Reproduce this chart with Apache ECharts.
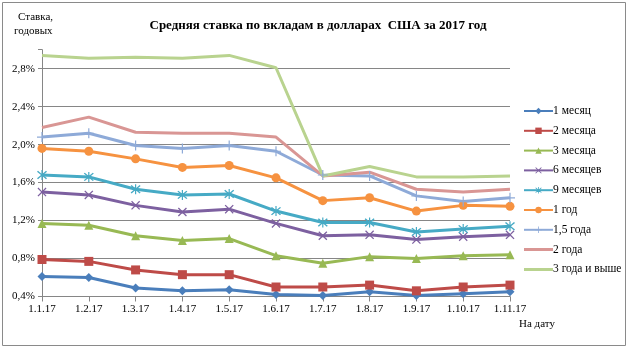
<!DOCTYPE html>
<html>
<head>
<meta charset="utf-8">
<script src="https://cdn.jsdelivr.net/npm/echarts@6/dist/echarts.min.js"></script>
<style>
  html, body { margin: 0; padding: 0; background: #fff; }
  #chart { width: 629px; height: 350px; }
</style>
</head>
<body>
<div id="chart"></div>
<script>
// Dates (first day of each month, 2017)
const dates = ['1.1.17', '1.2.17', '1.3.17', '1.4.17', '1.5.17', '1.6.17', '1.7.17', '1.8.17', '1.9.17', '1.10.17', '1.11.17'];

// Average USD deposit rates by term, % per annum
const rate1m   = [0.61, 0.60, 0.49, 0.46, 0.47, 0.42, 0.41, 0.45, 0.41, 0.43, 0.45];
const rate2m   = [0.79, 0.77, 0.68, 0.63, 0.63, 0.50, 0.50, 0.52, 0.46, 0.50, 0.52];
const rate3m   = [1.17, 1.15, 1.04, 0.99, 1.01, 0.83, 0.75, 0.82, 0.80, 0.83, 0.84];
const rate6m   = [1.50, 1.47, 1.36, 1.29, 1.32, 1.17, 1.04, 1.05, 1.00, 1.03, 1.05];
const rate9m   = [1.68, 1.66, 1.53, 1.47, 1.48, 1.30, 1.18, 1.18, 1.08, 1.11, 1.14];
const rate1y   = [1.96, 1.93, 1.85, 1.76, 1.78, 1.65, 1.41, 1.44, 1.30, 1.36, 1.35];
const rate18m  = [2.08, 2.12, 1.99, 1.96, 1.99, 1.93, 1.68, 1.67, 1.46, 1.40, 1.44];
const rate2y   = [2.18, 2.29, 2.13, 2.12, 2.12, 2.08, 1.67, 1.71, 1.53, 1.50, 1.53];
const rate3yUp = [2.94, 2.91, 2.92, 2.91, 2.94, 2.81, 1.67, 1.77, 1.66, 1.66, 1.67];

// Axis range and tick step
const yMin = 0.4, yMax = 3.0, yStep = 0.4;

const serif = '"Liberation Serif", "DejaVu Serif", serif';

const crossPath = 'path://M0,1 L1,0 L5,4 L9,0 L10,1 L6,5 L10,9 L9,10 L5,6 L1,10 L0,9 L4,5 Z';
const starPath = 'path://M0,1 L1,0 L5,4 L9,0 L10,1 L6,5 L10,9 L9,10 L5,6 L1,10 L0,9 L4,5 Z M4.4,-1 L5.6,-1 L5.6,11 L4.4,11 Z';
const plusPath = 'path://M4.4,0 L5.6,0 L5.6,4.4 L10,4.4 L10,5.6 L5.6,5.6 L5.6,10 L4.4,10 L4.4,5.6 L0,5.6 L0,4.4 L4.4,4.4 Z';
// Plain line swatch for legend entries without markers
const barIcon = 'path://M0,0 L0.01,0 L0.01,0.01 Z M0,2.5 L29,2.5 L29,5.5 L0,5.5 Z M0,8 L0.01,8 L0.01,7.99 Z';

function line(name, data, color, symbol, size) {
  const s = {
    name: name,
    type: 'line',
    data: data,
    lineStyle: { color: color, width: 3 },
    itemStyle: { color: color },
    emphasis: { disabled: true },
    animation: false,
    z: 3
  };
  if (symbol) {
    s.symbol = symbol;
    s.symbolSize = size;
  } else {
    s.symbol = 'none';
    s.showSymbol = false;
  }
  return s;
}

const chart = echarts.init(document.getElementById('chart'));
chart.setOption({
  backgroundColor: '#ffffff',
  animation: false,
  title: {
    text: 'Средняя ставка по вкладам в долларах  США за 2017 год',
    left: 313,
    top: 14,
    textAlign: 'center',
    textStyle: { fontFamily: serif, fontSize: 13, fontWeight: 'bold', color: '#000' }
  },
  graphic: [
    { type: 'rect', shape: { x: 2.5, y: 2.5, width: 623, height: 343 }, style: { fill: 'none', stroke: '#8a8a8a', lineWidth: 1 }, z: -1 },
    { type: 'text', left: 18, top: 12, style: { text: 'Ставка,', font: '11px ' + serif, fill: '#000' } },
    { type: 'text', left: 14, top: 26, style: { text: 'годовых', font: '11px ' + serif, fill: '#000' } },
    { type: 'text', left: 519, top: 319, style: { text: 'На дату', font: '11px ' + serif, fill: '#000' } }
  ],
  legend: {
    orient: 'vertical',
    left: 518,
    top: 99,
    itemWidth: 29,
    itemHeight: 8,
    itemGap: 5.8,
    textStyle: { fontFamily: serif, fontSize: 11.5, color: '#000', lineHeight: 14, padding: [0, 0, 0, -5] },
    data: [
      { name: '1 месяц' }, { name: '2 месяца' }, { name: '3 месяца' }, { name: '6 месяцев' },
      { name: '9 месяцев' }, { name: '1 год' }, { name: '1,5 года' },
      { name: '2 года', icon: barIcon },
      { name: '3 года и выше', icon: barIcon }
    ]
  },
  grid: { left: 42, right: 119, top: 49.7, bottom: 53.5, containLabel: false },
  xAxis: {
    type: 'category',
    data: dates,
    boundaryGap: false,
    axisLine: { lineStyle: { color: '#868686', width: 1 } },
    axisTick: { show: true, length: 5, lineStyle: { color: '#868686' } },
    axisLabel: { fontFamily: serif, fontSize: 11, color: '#000', margin: 7 },
    splitLine: { show: false }
  },
  yAxis: {
    type: 'value',
    min: yMin,
    max: yMax,
    interval: yStep,
    axisLine: { show: true, lineStyle: { color: '#868686', width: 1 } },
    axisTick: { show: true, length: 4, lineStyle: { color: '#868686' } },
    axisLabel: {
      fontFamily: serif, fontSize: 11, color: '#000', margin: 7,
      formatter: function (v) {
        if (v > 2.85) return '';
        return v.toFixed(1).replace('.', ',') + '%';
      }
    },
    splitLine: { show: true, showMaxLine: false, lineStyle: { color: '#868686', width: 1 } }
  },
  series: [
    line('1 месяц', rate1m, '#4a7ebb', 'diamond', 9),
    line('2 месяца', rate2m, '#be4b48', 'rect', 9),
    line('3 месяца', rate3m, '#98b954', 'triangle', 9),
    line('6 месяцев', rate6m, '#7d60a0', crossPath, 9),
    line('9 месяцев', rate9m, '#46aac5', starPath, 10),
    line('1 год', rate1y, '#f69240', 'circle', 9),
    line('1,5 года', rate18m, '#8eaad8', plusPath, 10),
    line('2 года', rate2y, '#d99694', null, 0),
    line('3 года и выше', rate3yUp, '#b9d38f', null, 0)
  ]
});
</script>
</body>
</html>
